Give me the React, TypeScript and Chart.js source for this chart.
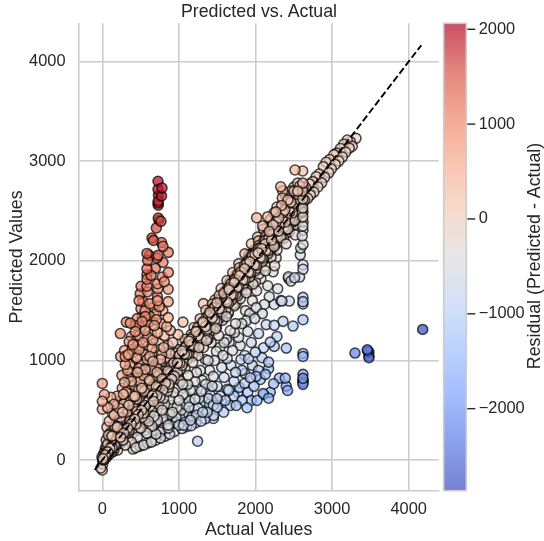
import React, { useEffect, useRef } from "react";
import { Chart, registerables } from "chart.js";

Chart.register(...registerables);

const plume: number[][] = [
[727,2799],[779,2732],[727,2718],[773,2652],[733,2658],[730,2601],[730,2558],[728,2580],[731,2430],[766,2397],[738,2408],[705,2330],
[648,2229],[668,2205],[773,2184],[792,2146],[862,2085],[583,2074],[614,2055],[727,2055],[714,2030],[592,2005],[792,1985],[583,1921],[692,1924],[862,1884],[583,1860],[636,1854],[783,1837],[583,1815],
[720,1770],[810,1790],[725,1720],[860,1715],[505,1745],[583,1745],[495,1670],[590,1690],[720,1640],[480,1600],[530,1590],[720,1600],[860,1590],[620,1570],[505,1520],[560,1500],[660,1530],[745,1540],[790,1500],[610,1450],[520,1440],[700,1470],[860,1430],
[313,1385],[365,1375],[440,1350],[520,1390],[600,1380],[680,1350],[770,1370],[840,1340],[235,1270],[430,1290],[480,1250],[560,1300],[640,1260],[720,1280],[810,1250],[888,1302],[988,1261],[1053,1385],
[350,1190],[400,1160],[450,1210],[530,1180],[600,1150],[660,1205],[740,1170],[800,1130],[290,1100],[340,1060],[410,1085],[480,1110],[555,1060],[620,1040],[700,1090],[775,1060],[860,1150],[920,1180],
[455,1420],[560,1440],[640,1400],[705,1410],[500,1330],[590,1235],[380,1240],[460,1150],[515,1100],[650,1120],[730,1010],[390,1110],[440,1020],[585,1010],[670,950],[300,1040],[360,960],[520,900],[610,960],[750,1110],[835,1020],[880,1070]
];

const upperFan: number[][] = [
[0,769],[27,658],[0,590],[0,510],[70,526],[110,630],[150,560],[190,640],[220,520],[255,850],[290,780],[340,830],[380,790],[420,750],[460,880],[510,960],[560,910],[610,860],[660,990],[710,930],[760,1010],[260,720],[310,680],[360,710],[400,640],[440,690],[490,790],[540,740],[590,820],[640,770],[690,850],[750,900],
[130,470],[170,420],[210,470],[250,600],[280,560],[320,520],[360,590],[400,560],[450,610],[500,660],[550,690],[600,720],[650,730],[60,330],[90,390],[120,300],[160,340],[200,380],[240,430],[280,440],[320,470],[370,500],[410,520],[470,560],[530,600],[580,640],[300,960],[240,1040],[330,900],[400,980],[450,1030],[790,960],[830,1080],[700,800],[760,860],[50,200],[80,250],[110,220],[140,260],[180,290],[220,340],[40,120],[70,160],
[30,80],[55,140],[85,190],[105,270],[125,240],[165,300],[195,330],[225,400],[265,480],[295,500],[345,550],[385,610],[425,640],[475,700],[515,720],[565,770],[615,800],[665,850],[715,880],[350,760],[275,660],[205,560],[155,450],[430,820],[480,920],[385,870],[535,850],[585,950],[635,910]
];

const midFan: number[][] = [
[1320,1570],[1420,1450],[1500,1510],[1600,1620],[1640,1470],[1700,1560],[1760,1640],[1830,1710],[1870,1500],[1910,1780],[1960,1600],[2015,1700],[2070,1820],[2115,1562],[2160,1750],[2230,1890],[2290,1720],
[1000,820],[1050,760],[1080,920],[1120,850],[1150,700],[1180,980],[1210,790],[1250,1050],[1280,900],[1320,1130],[1350,760],[1380,1000],[1420,1180],[1450,840],[1490,1090],[1520,1250],[1560,930],[1590,1180],[1630,1020],[1670,1300],[1700,1100],[1740,880],[1780,1230],[1820,1370],[1860,1050],[1900,1290],[1945,1180],[1990,1420],[2040,1270],[2090,1470],[2140,1360],
[500,320],[540,400],[580,270],[620,450],[650,340],[690,530],[720,400],[760,280],[800,620],[830,470],[860,350],[900,550],[930,680],[960,430],[1000,600],[1030,500],[1060,350],[1100,640],[1130,530],[1170,430],[1210,610],[1250,520],[1290,690],[1330,590],[1370,480],[1410,650],[1450,550],[1500,740],[1540,640],[1590,830],[1630,710],[1680,950],[1720,790],[1770,680],[1810,1010],[1860,870],
[300,150],[340,230],[380,180],[420,300],[460,230],[200,100],[240,170],[150,90],[100,110],[1740,1370],[1620,1210],[1480,1320],[1380,1210],[1260,1130],[1150,1060],[1040,950],[950,850],[870,760],[790,700],[700,620],[620,540],[540,470],[2330,1600],[2250,1950],[2180,1640],
[270,200],[310,260],[350,300],[395,270],[440,360],[480,300],[520,430],[565,370],[605,390],[640,500],[675,440],[735,560],[780,500],[815,560],[850,690],[885,610],[915,480],[985,720],[1020,790],[1075,560],[1115,760],[1190,700],[1230,880],[1305,800],[1345,1010],[1400,900],[1465,1000],[1535,1130],[1575,1050],[1655,1180],[1725,1280],[1800,1150],[1880,1400],[1925,1470],[2010,1530],
[560,300],[610,330],[670,300],[700,380],[745,340],[790,420],[840,400],[880,460],[925,400],[975,530],[1015,420],[1055,660],[1095,460],[1135,590],[1205,510],[1265,620],[1355,680],[1435,740]
];

const lowerFan: number[][] = [
[692,196],[640,180],[590,170],[540,150],[490,140],[440,125],[400,110],[760,220],[820,240],[880,260],[940,285],[1040,316],[1100,335],[1160,345],[1220,375],[1290,390],[1345,414],[1384,618],[1449,417],[1453,447],[1497,615],[1584,480],[1605,598],[1671,548],[1749,548],[1824,598],[1889,525],[1945,598],[2019,598],[2100,668],[1244,189],
[2063,809],[1932,826],[2106,658],[2171,621],[2193,680],[2237,766],[2311,822],[2389,822],[2402,742],[2419,698],[2280,1241],[2193,1184],[2245,1141],[2402,1124],[2106,1128],[1997,1083],[2085,1027],[2171,983],[2171,917],[1910,1017],[1824,900],
[2576,1837],[2430,1824],[2463,1797],[2441,1596],[2345,1596],[2245,1562],[2490,1345],[2359,1392],[2245,1352],
[1720,640],[1650,700],[1560,590],[1500,530],[1400,560],[1310,480],[1230,450],[1150,400],[1080,380],[1000,350],[950,370],[860,320],[780,300],[700,260],[1900,680],[1980,740],[1790,730],[1860,770],[2040,900],[2130,860],[1960,950],[2010,840]
];

const columnAt2600: number[][] = [
[2620,1633],[2620,1590],[2620,1567],[2620,1409],[2620,1070],[2620,1040],[2620,860],[2620,820],[2620,793],[2620,760],[2620,805],[2620,780],
[2616,2902],[2618,2780],[2622,2740],[2615,2700],[2620,2660],[2618,2620],[2622,2580],[2617,2530],[2620,2490],[2619,2440],[2621,2390],[2618,2350],[2620,2306],[2610,2250],[2590,2128],[2620,2165],[2620,1960],[2620,1915],[2585,2060],[2510,1830],[2430,1840]
];

const farOutliers: number[][] = [[3299,1074],[3459,1107],[3481,1083],[3481,1027],[3481,1045],[3465,1095],[4183,1311]];

const diagonal: number[][] = [
[-20,-80],[0,-100],[5,-40],[10,-10],[-5,30],[15,60],[25,5],[30,70],[40,35],[45,90],[55,30],[73,118],[81,52],[102,139],[118,74],[137,180],[149,101],[171,222],[186,151],[193,177],[214,268],[233,171],[241,303],[266,213],[279,311],[298,262],[317,384],[338,268],[346,402],[371,339],[394,441],[407,318],[429,520],[448,401],[467,489],[489,396],[501,576],[523,458],[542,606],[566,489],[579,633],[604,541],[611,702],[637,530],[652,697],[668,588],[691,781],[713,646],[729,768],[752,631],[768,860],[791,701],[804,889],[826,770],[847,912],[869,731],[883,1012],[906,812],[927,998],[941,842],[958,1071],[982,889],[1003,1108],[1019,902],[1040,1097],[1063,982],[1079,1212],[1104,1003],[1118,1204],[1137,1049],[1161,1261],[1176,1041],[1197,1330],[1218,1118],[1239,1309],[1254,1121],[1278,1419],[1296,1206],[1311,1392],[1338,1262],[1352,1504],[1371,1228],[1398,1481],[1412,1331],[1437,1566],[1452,1302],[1473,1609],[1496,1387],[1512,1597],[1527,1421],[1551,1722],[1568,1402],[1589,1691],[1613,1512],[1628,1802],[1647,1481],[1669,1770],[1688,1606],[1703,1883],[1724,1548],[1748,1862],[1766,1650],[1782,1972],[1801,1619],[1826,1931],[1847,1762],[1861,2070],[1884,1708],[1903,2026],[1921,1839],[1946,2171],[1968,1766],[1982,2109],[2003,1903],[2027,2238],[2046,1868],[2064,2191],[2087,1990],[2103,2318],[2126,1949],[2141,2262],[2163,2071],[2184,2405],[2202,2037],[2229,2360],[2247,2149],[2266,2492],[2281,2108],[2304,2431],[2326,2248],[2341,2556],[2367,2222],[2382,2508],[2399,2310],[2424,2611],[2441,2288],[2463,2589],[2487,2391],[2502,2700],[2518,2365],[2544,2668],[2561,2470],[2578,2751],[2601,2432],
[2015,2433],[2094,2350],[2159,2443],[2200,2420],[2240,2480],[2280,2540],[2329,2744],[2355,2704],[2350,2630],[2390,2660],[2430,2600],[2460,2700],[2516,2912],[2500,2740],[2550,2780],[2590,2700],
[2640,2610],[2655,2735],[2682,2628],[2704,2772],[2716,2660],[2748,2795],[2763,2690],[2792,2845],[2815,2742],[2831,2872],[2864,2783],[2886,2945],[2903,2838],[2921,2990],[2956,2884],[2968,3018],[2991,2922],[3024,3066],[3041,2968],[3060,3081],[3088,3002],[3108,3128],[3134,3042],[3152,3171],[3178,3092],[3199,3213],[3224,3132],[3238,3196],[3263,3151],[3312,3230]
];

const coreBand: number[][] = [
[12,22],[33,28],[48,65],[66,58],[92,101],[108,96],[131,150],[156,142],[172,190],[197,183],[214,236],[238,229],[263,281],[281,270],[309,322],[331,318],[352,371],[377,362],[398,421],[423,410],[446,470],[468,455],[489,515],[514,500],[537,556],[559,548],[583,606],[604,590],[628,651],[652,640],[671,700],[696,680],[719,744],[741,728],[762,791],[788,772],[806,832],[829,815],[853,880],[874,858],[897,925],[921,906],[940,971],[966,950],[988,1016],[1009,995],[1033,1062],[1057,1040],[1078,1110],[1099,1084],[1121,1150],[1146,1128],[1168,1201],[1191,1172],[1212,1243],[1237,1219],[1258,1292],[1281,1262],[1303,1335],[1327,1308],[1349,1384],[1372,1350],[1394,1428],[1418,1398],[1441,1474],[1462,1445],[1487,1522],[1508,1486],[1532,1566],[1553,1531],[1578,1613],[1601,1572],[1622,1662],[1644,1618],[1669,1705],[1691,1660],[1713,1752],[1738,1706],[1759,1802],[1783,1748],[1806,1845],[1828,1792],[1851,1895],[1873,1836],[1897,1940],[1919,1880],[1942,1986],[1966,1924],[1988,2032],[2012,1966],[2034,2080],[2058,2012],[2081,2122],[2103,2056],[2127,2170],[2149,2098],[2172,2218],[2196,2142],[2218,2262],[2241,2186],[2263,2310],[2287,2226],[2309,2355],[2332,2272],[2354,2400],[2378,2316],[2401,2445],[2423,2358],[2446,2492],[2469,2402],[2491,2540],[2514,2446],[2537,2582],[2560,2490],[2583,2630],[2606,2535],
[20,5],[78,90],[140,128],[205,218],[270,258],[340,352],[410,396],[475,488],[545,530],[612,625],[680,666],[750,762],[820,806],[885,898],[952,938],[1020,1032],[1090,1076],[1158,1170],[1226,1212],[1295,1308],[1362,1348],[1430,1442],[1500,1486],[1568,1580],[1636,1622],[1705,1716],[1772,1758],[1840,1852],[1908,1894],[1976,1988],[2045,2030],[2112,2124],[2180,2166],[2250,2262],[2318,2304],[2386,2398],[2454,2440],[2522,2534],[2590,2575],
[1105,1180],[1245,1330],[1385,1470],[1525,1650],[1665,1790],[1790,1930],[1910,2060],[2040,2200],[2150,2330],[2270,2420],[2390,2550],[2480,2640],[2550,2700],[1225,1090],[1360,1200],[1490,1330],[1620,1440],[1750,1570],[1880,1680],[2000,1790],[2130,1900],[2270,2030],[2400,2170],[2520,2260]
];

const denseCore: number[][] = [
[8,14],[27,18],[39,51],[58,47],[71,82],[87,73],[99,118],[116,104],[128,121],[143,166],[161,149],[177,168],[189,213],[208,196],[219,221],[231,254],[247,238],[258,249],[272,301],[289,276],[303,296],[318,341],[334,327],[349,344],[361,392],[381,368],[393,385],[407,439],[421,404],[438,431],[452,487],[471,459],[483,476],[497,533],[511,492],[529,521],[544,579],[562,547],[574,562],[589,629],[606,583],[619,611],[633,672],[649,631],[664,653],[678,721],[694,668],[708,702],[723,769],[739,717],[754,743],[769,812],[783,756],[798,789],[812,858],[831,802],[844,836],[859,905],[877,841],[889,879],[903,951],[922,883],[936,928],[948,1001],[968,929],[981,972],[994,1046],[1012,971],[1027,1019],[1041,1095],[1058,1012],[1072,1063],[1086,1141],[1103,1059],[1117,1108],[1131,1192],[1149,1098],[1163,1156],[1177,1238],[1194,1143],[1209,1198],[1222,1289],[1241,1185],[1255,1247],[1268,1336],[1286,1226],[1300,1291],[1314,1385],[1332,1272],[1346,1338],[1359,1431],[1377,1314],[1391,1382],[1405,1482],[1423,1360],[1437,1428],[1450,1528],[1468,1402],[1482,1473],[1496,1578],[1514,1446],[1528,1519],[1541,1624],[1559,1488],[1573,1566],[1587,1674],[1605,1532],[1619,1612],[1632,1721],[1650,1574],[1664,1657],[1678,1770],[1696,1619],[1710,1703],[1723,1817],[1741,1662],[1755,1749],[1769,1866],[1787,1705],[1801,1795],[1814,1912],[1832,1751],[1846,1839],[1860,1961],[1878,1792],[1892,1886],[1905,2008],[1923,1838],[1937,1932],[1951,2057],[1969,1881],[1983,1977],[1996,2103],[2014,1926],[2028,2024],[2042,2153],[2060,1968],[2074,2069],[2087,2199],[2105,2013],[2119,2115],[2133,2248],[2151,2056],[2165,2161],[2178,2295],[2196,2100],[2210,2206],[2224,2344],[2242,2145],[2256,2252],[2269,2390],[2287,2187],[2301,2298],[2315,2440],[2333,2232],[2347,2344],[2360,2486],[2378,2274],[2392,2390],[2406,2535],[2424,2319],[2438,2435],[2451,2582],[2469,2361],[2483,2481],[2497,2631],[2515,2406],[2529,2527],[2542,2677],[2560,2449],[2574,2572],[2588,2726],[2606,2494],
[16,33],[52,42],[84,97],[124,113],[158,174],[192,180],[226,244],[262,251],[296,316],[328,312],[362,384],[396,380],[430,452],[464,447],[498,524],[532,516],[566,592],[600,583],[634,662],[668,652],[702,731],[736,720],[770,802],[804,788],[838,870],[872,856],[906,941],[940,924],[974,1010],[1008,992],[1042,1081],[1076,1060],[1110,1150],[1144,1128],[1178,1221],[1212,1196],[1246,1290],[1280,1264],[1314,1361],[1348,1332],[1382,1430],[1416,1400],[1450,1501],[1484,1468],[1518,1570],[1552,1536],[1586,1641],[1620,1604],[1654,1710],[1688,1672],[1722,1781],[1756,1740],[1790,1850],[1824,1808],[1858,1921],[1892,1876],[1926,1990],[1960,1944],[1994,2061],[2028,2012],[2062,2130],[2096,2080],[2130,2201],[2164,2148],[2198,2270],[2232,2216],[2266,2341],[2300,2284],[2334,2410],[2368,2352],[2402,2481],[2436,2420],[2470,2550],[2504,2488],[2538,2621],[2572,2556]
];

const tightCore: number[][] = [
[6,2],[19,24],[31,34],[44,41],[57,60],[69,74],[82,79],[94,103],[107,101],[119,127],[133,130],[146,141],[157,166],[169,163],[182,190],[195,188],[207,203],[221,229],[234,227],[246,254],[259,256],[271,268],[284,296],[297,291],[309,304],[322,336],[336,330],[347,342],[359,375],[373,367],[386,381],[398,413],[411,404],[423,419],[436,454],[449,441],[462,457],[474,495],[487,478],[499,494],[512,535],[526,516],[538,532],[551,574],[563,552],[576,570],[589,614],[601,589],[614,607],[627,655],[639,627],[652,645],[664,694],[678,663],[691,682],[703,735],[716,701],[728,720],[741,773],[754,737],[767,758],[779,813],[792,775],[804,796],[818,854],[830,811],[843,832],[856,893],[868,848],[881,870],[893,933],[907,886],[919,907],[932,972],[945,923],[957,945],[969,1012],[983,960],[996,983],[1008,1052],[1021,996],[1034,1020],[1046,1092],[1059,1033],[1071,1057],[1085,1131],[1097,1070],[1110,1095],[1123,1171],[1135,1107],[1148,1132],[1160,1212],[1174,1143],[1186,1170],[1199,1251],[1212,1180],[1224,1207],[1237,1291],[1249,1218],[1263,1245],[1275,1331],[1288,1254],[1301,1283],[1313,1371],[1326,1291],[1338,1319],[1352,1411],[1364,1329],[1377,1357],[1390,1450],[1402,1365],[1415,1395],[1427,1491],[1441,1402],[1453,1432],[1466,1530],[1479,1439],[1491,1470],[1504,1570],[1516,1476],[1530,1507],[1542,1610],[1555,1513],[1568,1545],[1580,1649],[1593,1550],[1605,1582],[1619,1690],[1631,1586],[1644,1620],[1657,1729],[1669,1623],[1682,1657],[1694,1769],[1708,1660],[1720,1695],[1733,1809],[1746,1696],[1758,1732],[1771,1849],[1783,1733],[1797,1770],[1809,1889],[1822,1770],[1835,1807],[1847,1928],[1860,1806],[1872,1845],[1886,1969],[1898,1843],[1911,1882],[1924,2008],[1936,1880],[1949,1920],[1961,2048],[1975,1916],[1987,1957],[2000,2088],[2013,1953],[2025,1995],[2038,2127],[2050,1990],[2064,2032],[2076,2168],[2089,2026],[2102,2070],[2114,2207],[2127,2063],[2139,2107],[2153,2247],[2165,2100],[2178,2145],[2191,2287],[2203,2136],[2216,2182],[2228,2326],[2242,2173],[2254,2220],[2267,2367],[2280,2210],[2292,2257],[2305,2406],[2317,2246],[2331,2295],[2343,2446],[2356,2283],[2369,2332],[2381,2486],[2394,2320],[2406,2370],[2420,2526],[2432,2356],[2445,2407],[2458,2566],[2470,2393],[2483,2445],[2495,2605],[2509,2430],[2521,2482],[2534,2646],[2547,2466],[2559,2520],[2572,2685],[2584,2503],[2598,2557]
];

const tickValuesX = [0, 1000, 2000, 3000, 4000];
const tickValuesY = [0, 1000, 2000, 3000, 4000];
const tickValuesBar = [-2000, -1000, 0, 1000, 2000];
const identityLine = [{ x: -100, y: -100 }, { x: 4165, y: 4165 }];

const coolwarm = ["#3b4cc0", "#5977e3", "#7b9ff9", "#9ebeff", "#c0d4f5", "#dddcdc", "#f2cbb7", "#f7ac8e", "#ee8468", "#d65244", "#b40426"];
const resMin = -2865;
const resMax = 2063;
const ALPHA = 0.7;

function hexRgb(h: string) {
  return [1, 3, 5].map((i) => parseInt(h.slice(i, i + 2), 16));
}
function cmap(r: number, alpha: number) {
  const t = Math.min(1, Math.max(0, (r - resMin) / (resMax - resMin))) * (coolwarm.length - 1);
  const i = Math.min(coolwarm.length - 2, Math.floor(t));
  const f = t - i;
  const a = hexRgb(coolwarm[i]);
  const b = hexRgb(coolwarm[i + 1]);
  const c = a.map((v, k) => Math.round(v + (b[k] - v) * f));
  return `rgba(${c[0]},${c[1]},${c[2]},${alpha})`;
}

const FONT = "'Liberation Sans', Arial, sans-serif";
const INK = "#262626";
const GRID = "#cccccc";

const colorbar = {
  id: "colorbar",
  beforeDraw(chart: any) {
    const { ctx, chartArea } = chart;
    const bar = chart.scales.res;
    const L = 443.7, R = 466.3;
    const T = chartArea.top, B = chartArea.bottom;
    const g = ctx.createLinearGradient(0, B, 0, T);
    coolwarm.forEach((c, i) => g.addColorStop(i / (coolwarm.length - 1), cmap(resMin + (i / (coolwarm.length - 1)) * (resMax - resMin), ALPHA)));
    ctx.save();
    ctx.fillStyle = g;
    ctx.fillRect(L, T, R - L, B - T);
    ctx.strokeStyle = GRID;
    ctx.lineWidth = 1.6;
    ctx.strokeRect(L, T, R - L, B - T);
    ctx.strokeStyle = INK;
    ctx.lineWidth = 1.4;
    tickValuesBar.forEach((v) => {
      const y = bar.getPixelForValue(v);
      ctx.beginPath();
      ctx.moveTo(R + 1, y);
      ctx.lineTo(R + 9, y);
      ctx.stroke();
    });
    ctx.fillStyle = INK;
    ctx.font = `17.8px ${FONT}`;
    ctx.translate(535, 256);
    ctx.rotate(-Math.PI / 2);
    ctx.textAlign = "center";
    ctx.textBaseline = "middle";
    ctx.fillText("Residual (Predicted - Actual)", 0, 0);
    ctx.restore();
  },
};

const noScalePadding = (s: any) => {
  s.paddingTop = 0;
  s.paddingBottom = 0;
  s.paddingLeft = 0;
  s.paddingRight = 0;
};

export default function App() {
  const ref = useRef<HTMLCanvasElement>(null);
  useEffect(() => {
    const all = [...upperFan, ...plume, ...lowerFan, ...midFan, ...farOutliers, ...columnAt2600, ...diagonal, ...coreBand, ...denseCore, ...tightCore];
    // Draw order is mixed so overlaps are not stacked group by group.
    const stride = 389;
    const pts = all.map((_, i) => all[(i * stride) % all.length]).map(([x, y]) => ({ x, y }));
    const chart = new Chart(ref.current!, {
      type: "scatter",
      data: {
        datasets: [
          {
            data: pts,
            pointRadius: 5,
            pointHoverRadius: 5,
            pointBorderWidth: 1.6,
            pointBorderColor: "rgba(0,0,0,0.7)",
            pointBackgroundColor: pts.map((p) => cmap(p.y - p.x, ALPHA)),
            order: 2,
          } as any,
          {
            type: "line",
            data: identityLine,
            borderColor: "#000000",
            borderWidth: 1.9,
            borderDash: [7, 3],
            pointRadius: 0,
            fill: false,
            order: 1,
          } as any,
        ],
      },
      options: {
        responsive: false,
        animation: false,
        devicePixelRatio: 1,
        layout: { padding: { top: 23.3, bottom: 0, left: 0, right: 0 } },
        plugins: {
          legend: { display: false },
          tooltip: { enabled: false },
          title: { display: false },
        },
        scales: {
          x: {
            type: "linear",
            min: -311,
            max: 4392,
            afterFit: (s: any) => { s.height = 541 - 490.7; noScalePadding(s); },
            afterBuildTicks: (s: any) => { s.ticks = tickValuesX.map((value) => ({ value })); },
            grid: { color: GRID, lineWidth: 1.6, drawTicks: false },
            border: { color: GRID, width: 1.6 },
            ticks: { color: INK, font: { family: FONT, size: 16.4 }, padding: 9, maxRotation: 0, callback: (v: any) => String(v) },
            title: { display: true, text: "Actual Values", color: INK, font: { family: FONT, size: 17.8 }, padding: { top: 0, bottom: 0 } },
          },
          y: {
            type: "linear",
            min: -308,
            max: 4385,
            afterFit: (s: any) => { s.width = 78.5; noScalePadding(s); },
            afterBuildTicks: (s: any) => { s.ticks = tickValuesY.map((value) => ({ value })); },
            grid: { color: GRID, lineWidth: 1.6, drawTicks: false },
            border: { color: GRID, width: 1.6 },
            ticks: { color: INK, font: { family: FONT, size: 16.4 }, padding: 13, callback: (v: any) => String(v) },
            title: { display: true, text: "Predicted Values", color: INK, font: { family: FONT, size: 17.8 }, padding: { top: 6, bottom: 0 } },
          },
          res: {
            type: "linear",
            position: "right",
            min: resMin,
            max: resMax,
            afterFit: (s: any) => { s.width = 544 - 438.7; noScalePadding(s); },
            afterBuildTicks: (s: any) => { s.ticks = tickValuesBar.map((value) => ({ value })); },
            grid: { display: false },
            border: { display: false },
            ticks: {
              color: INK,
              font: { family: FONT, size: 16.4 },
              padding: 32,
              callback: (v: any) => (Number(v) < 0 ? "\u2212" + Math.abs(Number(v)) : String(v)),
            },
          },
        },
      },
      plugins: [colorbar],
    } as any);
    return () => chart.destroy();
  }, []);
  return (
    <div style={{ position: "absolute", left: 0, top: 0, width: 544, height: 541 }}>
      <canvas ref={ref} width={544} height={541} style={{ display: "block" }} />
      <span
        style={{ position: "absolute", left: 0, width: 518, top: 1, textAlign: "center", font: `17.8px ${FONT}`, color: INK, lineHeight: "20px" }}
      >
        Predicted vs. Actual
      </span>
    </div>
  );
}
